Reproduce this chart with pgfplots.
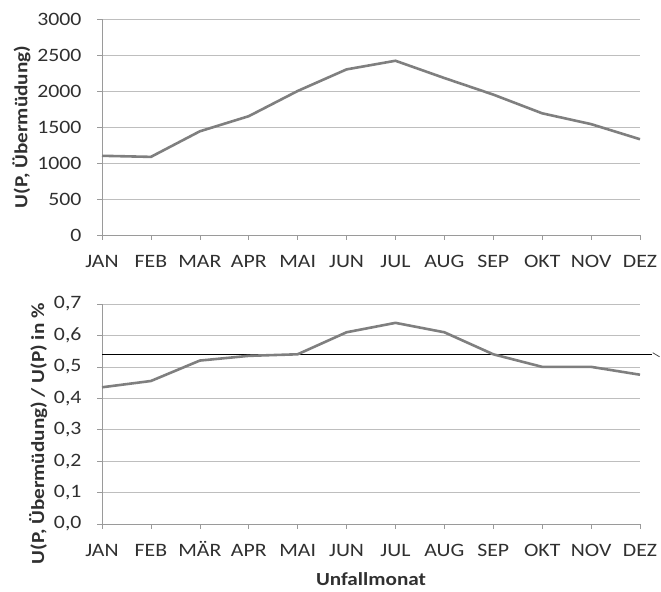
\documentclass[border=0pt]{standalone}
\usepackage{pgfplots}
\pgfplotsset{compat=1.18}
\usepackage{fontspec}
\setmainfont{Carlito}[FakeStretch=1.15]
\definecolor{linegray}{HTML}{7F7F7F}
\definecolor{gridgray}{HTML}{BEBEBE}
\definecolor{axgray}{HTML}{9A9A9A}
\definecolor{txt}{HTML}{303030}
\pgfplotsset{
  monthaxis/.style={
    scale only axis, width=538bp,
    xmin=0, xmax=11,
    xtick={0,...,11},
    axis x line*=bottom, axis y line*=left,
    axis line style={axgray},
    tick style={axgray, line width=0.6pt},
    major tick length=5bp,
    tick align=outside,
    ymajorgrids, grid style={gridgray, line width=0.6pt},
    tick label style={font=\fontsize{19}{20}\selectfont, text=txt},
    xticklabel style={text height=2.1ex, text depth=0.3ex, yshift=-14bp},
    yticklabel style={xshift=-12bp},
    ylabel style={font=\bfseries\fontsize{18.5}{19}\selectfont, text=txt},
    /pgf/number format/assume math mode=true,
    clip=false,
  }
}
\begin{document}
\begin{tikzpicture}
\path[use as bounding box] (0,0) rectangle (661bp,592bp);
% top: absolute counts
\begin{axis}[monthaxis,
  at={(102bp,357bp)}, anchor=south west, height=216bp,
  ymin=0, ymax=3000, ytick={0,500,...,3000},
  xticklabels={JAN,FEB,MAR,APR,MAI,JUN,JUL,AUG,SEP,OKT,NOV,DEZ},
  /pgf/number format/1000 sep={},
  ylabel={U(P, Übermüdung)},
  ylabel shift=0bp,
]
\addplot[linegray, line width=2.6bp, line join=round] coordinates {
(0,1100) (1,1085) (2,1440) (3,1650) (4,2000) (5,2300)
(6,2420) (7,2180) (8,1950) (9,1690) (10,1540) (11,1330)};
\end{axis}
% bottom: share in percent
\begin{axis}[monthaxis,
  at={(102bp,68bp)}, anchor=south west, height=220bp,
  ymin=0, ymax=0.7, ytick={0,0.1,...,0.7},
  yticklabel style={/pgf/number format/.cd, fixed, fixed zerofill, precision=1, use comma},
  xticklabels={JAN,FEB,MÄR,APR,MAI,JUN,JUL,AUG,SEP,OKT,NOV,DEZ},
  ylabel={U(P, Übermüdung) / U(P) in \%},
  ylabel style={at={(ticklabel cs:0.41)}},
  ylabel shift=0bp,
  xlabel={Unfallmonat},
  xlabel style={font=\bfseries\fontsize{18.5}{19}\selectfont, text=txt, yshift=-8bp},
]
\addplot[black, line width=1.3bp] coordinates {(0,0.54) (11.24,0.54)};
\addplot[black!70, line width=0.8bp] coordinates {(11.26,0.545) (11.4,0.532)};
\addplot[linegray, line width=2.6bp, line join=round] coordinates {
(0,0.435) (1,0.455) (2,0.52) (3,0.535) (4,0.54) (5,0.61)
(6,0.64) (7,0.61) (8,0.54) (9,0.50) (10,0.50) (11,0.475)};
\end{axis}
\end{tikzpicture}
\end{document}
